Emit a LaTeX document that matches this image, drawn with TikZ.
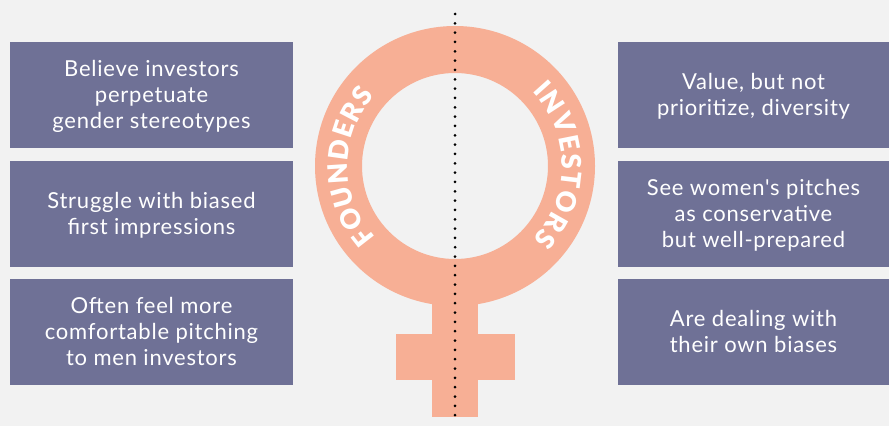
\documentclass[tikz,border=0pt]{standalone}
\usepackage{fontspec}
\setmainfont[LetterSpace=3.5,Ligatures=TeXOff]{Lato}
\newfontfamily\ringfont{Lato Black}
\usetikzlibrary{decorations.text}
\definecolor{paper}{HTML}{F2F2F2}
\definecolor{slate}{HTML}{6F7196}
\definecolor{salmon}{HTML}{F7AF95}
\tikzset{
  claim/.style={fill=slate, minimum height=106pt, inner sep=0pt},
  claimtext/.style={text=white, align=center, inner sep=0pt, yshift=-3pt, font=\fontsize{22}{26}\selectfont, execute at end node=\strut},
  founder/.style={claim, minimum width=283pt},
  investor/.style={claim, minimum width=271pt},
  ringtext/.style={decorate, decoration={text along path, text align=fit to path, text color=white, text={|\fontsize{27}{27}\ringfont|#1}}}
}
\begin{document}
\begin{tikzpicture}[x=1pt, y=1pt]
\useasboundingbox[fill=paper] (0,0) rectangle (889,426);
% symbol
\fill[salmon, even odd rule] (455,260) circle (140) (455,260) circle (93);
\fill[salmon] (431.7,130) rectangle (478.3,9.5);
\fill[salmon] (395.5,92) rectangle (514.8,45.7);
\path[ringtext=FOUNDERS] (455,260) ++(222:107) arc (222:139:107);
\path[ringtext=INVESTORS] (455,260) ++(44:107) arc (44:-43:107);
% axis
\coordinate (top) at (455,412);
\coordinate (bottom) at (455,2);
\draw[line width=3pt, line cap=round, dash pattern=on 0pt off 9.33pt] (top) -- (bottom);
% left column
\node[founder, label={[claimtext]center:{Believe investors\\perpetuate\\gender stereotypes}}] (F1) at (151.5,331) {};
\node[founder, label={[claimtext]center:{Struggle with biased\\first impressions}}] (F2) at (151.5,212) {};
\node[founder, label={[claimtext]center:{Often feel more\\comfortable pitching\\to men investors}}] (F3) at (151.5,94) {};
% right column
\node[investor, label={[claimtext]center:{Value, but not\\prioritize, diversity}}] (I1) at (753.5,331) {};
\node[investor, label={[claimtext]center:{See women's pitches\\as conservative\\but well-prepared}}] (I2) at (753.5,212) {};
\node[investor, label={[claimtext]center:{Are dealing with\\their own biases}}] (I3) at (753.5,94) {};
\end{tikzpicture}
\end{document}
